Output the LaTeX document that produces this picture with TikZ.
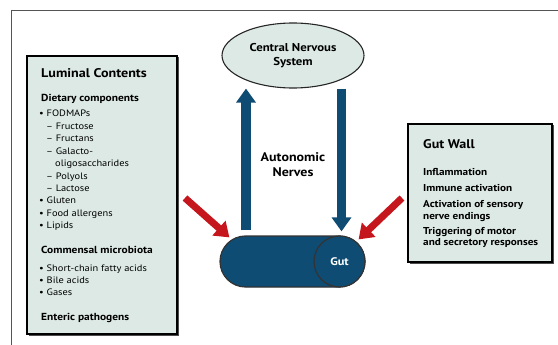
\documentclass[tikz,border=0pt]{standalone}
\usepackage{fontspec}
\setmainfont[FakeStretch=1.12]{PT Sans}
\usetikzlibrary{arrows.meta,shapes.geometric,calc}
\definecolor{mint}{HTML}{DCE9E5}
\definecolor{navy}{HTML}{0E4C74}
\definecolor{redar}{HTML}{C4161C}
\definecolor{frame}{HTML}{555555}
\tikzset{
  box/.style={draw=black, line width=1.1pt, fill=mint, inner sep=0pt},
  shadowbox/.style={fill=black!70, draw=none, inner sep=0pt},
  title/.style={font=\fontsize{12.6}{14}\selectfont\bfseries, anchor=base west, inner sep=0pt},
  head/.style={font=\fontsize{10.2}{12}\selectfont\bfseries, anchor=base west, inner sep=0pt},
  item/.style={font=\fontsize{9.3}{11}\selectfont, anchor=base west, inner sep=0pt},
  gwitem/.style={font=\fontsize{10}{11}\selectfont\bfseries, anchor=base west, inner sep=0pt},
  bluearrow/.style={navy, line width=9.5pt, -{Triangle[width=19pt,length=14pt]}},
  redarrow/.style={redar, line width=7pt, -{Triangle[width=19pt,length=14pt]}},
}
\begin{document}
\begin{tikzpicture}[x=1pt,y=-1pt]
\useasboundingbox (0,0) rectangle (558,345);
% frame
\draw[frame, line width=1pt] (11,345) -- (11,11) -- (558,11);

% left box
\node[shadowbox, minimum width=150pt, minimum height=278pt] (lshadow) at (103.5,196.5) {};
\node[box, minimum width=150pt, minimum height=278pt] (lbox) at (102,195) {};
% right box
\node[shadowbox, minimum width=144pt, minimum height=138pt] (rshadow) at (481.5,194.5) {};
\node[box, minimum width=144pt, minimum height=138pt] (rbox) at (480,193) {};

% CNS
\node[ellipse, draw=black!85, line width=1.1pt, fill=mint, minimum width=142pt, minimum height=65pt, inner sep=0pt,
      align=center, font=\fontsize{11.4}{14}\selectfont\bfseries] (cns) at (293,55.5) {Central Nervous\\System};

% Gut
\node[draw=black!80, line width=1.2pt, fill=navy, rounded corners=25.5pt, minimum width=145pt, minimum height=51pt, inner sep=0pt] (gut) at (292.5,261.5) {};
\node[circle, draw=black!80, line width=1.2pt, fill=navy, minimum size=51pt, inner sep=0pt,
      text=white, font=\fontsize{11}{13}\selectfont\bfseries] (gutc) at (339.5,261.5) {Gut};

% autonomic nerves
\node[align=center, font=\fontsize{12.5}{15}\selectfont\bfseries] (auto) at (293,165) {Autonomic\\Nerves};

% blue arrows
\draw[bluearrow] ($(gut.north -| 246,0)+(0,-5)$) -- (cns.south -| 246,0);
\draw[bluearrow] (cns.south -| 341.5,0) -- ($(gut.north -| 341.5,0)+(0,-4)$);

% red arrows
\coordinate (ltail) at (185,198);
\coordinate (rtail) at (402,198);
\draw[redarrow] (ltail) -- ($(gut.north west)+(10,2)$);
\draw[redarrow] (rtail) -- ($(gut.north east)+(-7,4)$);

% left text
\node[title] (t1) at (41,77.5) {Luminal Contents};
\node[head] (t2) at (41,102) {Dietary components};
\node[item] (t3) at (39,117) {• FODMAPs};
\node[item] (t4) at (46,129.4) {– Fructose};
\node[item] (t5) at (46,141.8) {– Fructans};
\node[item] (t6) at (46,154.2) {– Galacto-};
\node[item] (t7) at (55,166.6) {oligosaccharides};
\node[item] (t8) at (46,179) {– Polyols};
\node[item] (t9) at (46,191.4) {– Lactose};
\node[item] (t10) at (39,203.8) {• Gluten};
\node[item] (t11) at (39,216.2) {• Food allergens};
\node[item] (t12) at (39,228.6) {• Lipids};
\node[head] (t13) at (41,254) {Commensal microbiota};
\node[item] (t14) at (39,271.5) {• Short-chain fatty acids};
\node[item] (t15) at (39,283.5) {• Bile acids};
\node[item] (t16) at (39,295.5) {• Gases};
\node[head] (t17) at (41,320) {Enteric pathogens};

% right text
\node[title] (g1) at (423,148.5) {Gut Wall};
\node[gwitem] (g2) at (423,175.5) {Inflammation};
\node[gwitem] (g3) at (423,191.5) {Immune activation};
\node[gwitem] (g4) at (423,207.5) {Activation of sensory};
\node[gwitem] (g5) at (423,219) {nerve endings};
\node[gwitem] (g6) at (423,234) {Triggering of motor};
\node[gwitem] (g7) at (423,245.5) {and secretory responses};
\end{tikzpicture}
\end{document}
